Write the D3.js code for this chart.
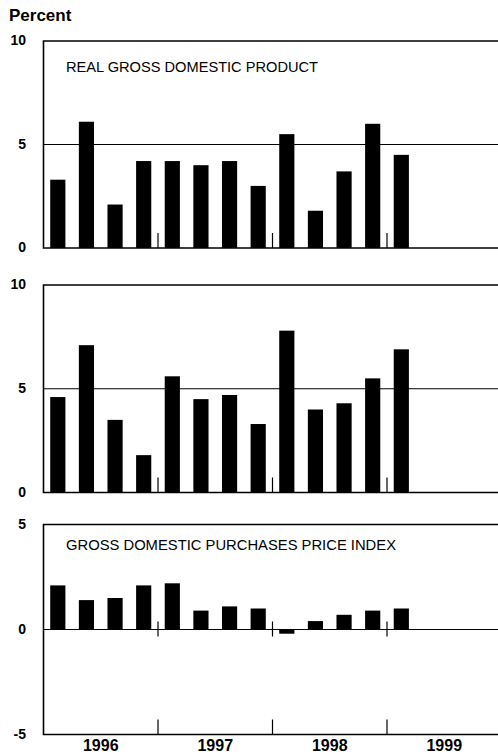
<!DOCTYPE html>
<html>
<head>
<meta charset="utf-8">
<script src="https://cdn.jsdelivr.net/npm/d3@7"></script>
<style>
  body { margin: 0; background: #fff; }
  svg { display: block; }
  .ylab { font-family: "Liberation Sans", Arial, sans-serif; font-weight: bold; font-size: 14px; }
  .ptitle { font-family: "Liberation Sans", Arial, sans-serif; font-size: 15px; }
  .year { font-family: "Liberation Sans", Arial, sans-serif; font-weight: bold; font-size: 16px; }
</style>
</head>
<body>
<div id="chart"></div>
<script>
// quarterly data, 1996 Q1 .. 1999 Q1
const quarters = d3.range(16).map(i => `${1996 + Math.floor(i / 4)}Q${i % 4 + 1}`);
const years = ["1996", "1997", "1998", "1999"];
const gdpValues = [3.3, 6.1, 2.1, 4.2, 4.2, 4.0, 4.2, 3.0, 5.5, 1.8, 3.7, 6.0, 4.5];
const demandValues = [4.6, 7.1, 3.5, 1.8, 5.6, 4.5, 4.7, 3.3, 7.8, 4.0, 4.3, 5.5, 6.9];
const priceValues = [2.1, 1.4, 1.5, 2.1, 2.2, 0.9, 1.1, 1.0, -0.2, 0.4, 0.7, 0.9, 1.0];
const yTicks10 = [0, 5, 10];
const yTicks5 = [-5, 0, 5];

const width = 498, height = 755;
const left = 43.5, right = 501.5;

const svg = d3.select("#chart")
  .append("svg")
  .attr("width", width)
  .attr("height", height);

// shared x scales
const xScale = d3.scaleBand()
  .domain(quarters)
  .range([left, right])
  .paddingInner(0.47)
  .paddingOuter(0.235);

const yearScale = d3.scaleBand()
  .domain(years)
  .range([left, right]);

svg.append("text")
  .attr("class", "ylab")
  .attr("x", 9)
  .attr("y", 21)
  .style("font-size", "17px")
  .text("Percent");

const panels = [
  { values: gdpValues, top: 41, bottom: 248, domain: [0, 10], ticks: yTicks10, ref: 5,
    title: "REAL GROSS DOMESTIC PRODUCT", titleLen: 252, titleY: 72 },
  { values: demandValues, top: 285, bottom: 492.5, domain: [0, 10], ticks: yTicks10, ref: 5 },
  { values: priceValues, top: 524.5, bottom: 734.5, domain: [-5, 5], ticks: yTicks5, ref: 0,
    title: "GROSS DOMESTIC PURCHASES PRICE INDEX", titleLen: 330, titleY: 550 }
];

panels.forEach(p => {
  const y = d3.scaleLinear().domain(p.domain).range([p.bottom, p.top]);
  const g = svg.append("g");

  // frame: top, left, bottom
  g.append("path")
    .attr("d", `M${width},${p.top}H${left}V${p.bottom}H${width}`)
    .attr("fill", "none")
    .attr("stroke", "#000")
    .attr("stroke-width", 1.6);

  // reference line
  g.append("line")
    .attr("x1", left).attr("x2", width)
    .attr("y1", y(p.ref)).attr("y2", y(p.ref))
    .attr("stroke", "#000")
    .attr("stroke-width", 1.2);

  // bars
  g.selectAll("rect")
    .data(p.values)
    .join("rect")
      .attr("x", (d, i) => xScale(quarters[i]))
      .attr("width", xScale.bandwidth())
      .attr("y", d => y(Math.max(0, d)))
      .attr("height", d => Math.abs(y(d) - y(0)))
      .attr("fill", "#000");

  // year boundary ticks
  const bounds = years.slice(1).map(yr => yearScale(yr));
  g.selectAll(".tick-b")
    .data(bounds)
    .join("line")
      .attr("x1", d => d).attr("x2", d => d)
      .attr("y1", p.bottom).attr("y2", p.bottom - 15)
      .attr("stroke", "#000")
      .attr("stroke-width", 1.2);
  if (p.domain[0] < 0) {
    g.selectAll(".tick-z")
      .data(bounds)
      .join("line")
        .attr("x1", d => d).attr("x2", d => d)
        .attr("y1", y(0) - 8).attr("y2", y(0) + 7)
        .attr("stroke", "#000")
        .attr("stroke-width", 1.2);
  }

  // y labels
  g.selectAll(".ylab")
    .data(p.ticks)
    .join("text")
      .attr("class", "ylab")
      .attr("x", 26)
      .attr("y", d => y(d))
      .attr("dy", "0.3em")
      .attr("text-anchor", "end")
      .text(d => d);

  if (p.title) {
    g.append("text")
      .attr("class", "ptitle")
      .attr("x", 66)
      .attr("y", p.titleY)
      .attr("textLength", p.titleLen)
      .attr("lengthAdjust", "spacingAndGlyphs")
      .text(p.title);
  }
});

// year labels
svg.selectAll(".year")
  .data(years)
  .join("text")
    .attr("class", "year")
    .attr("x", d => yearScale(d) + yearScale.bandwidth() / 2)
    .attr("y", 751)
    .attr("text-anchor", "middle")
    .text(d => d);
</script>
</body>
</html>
